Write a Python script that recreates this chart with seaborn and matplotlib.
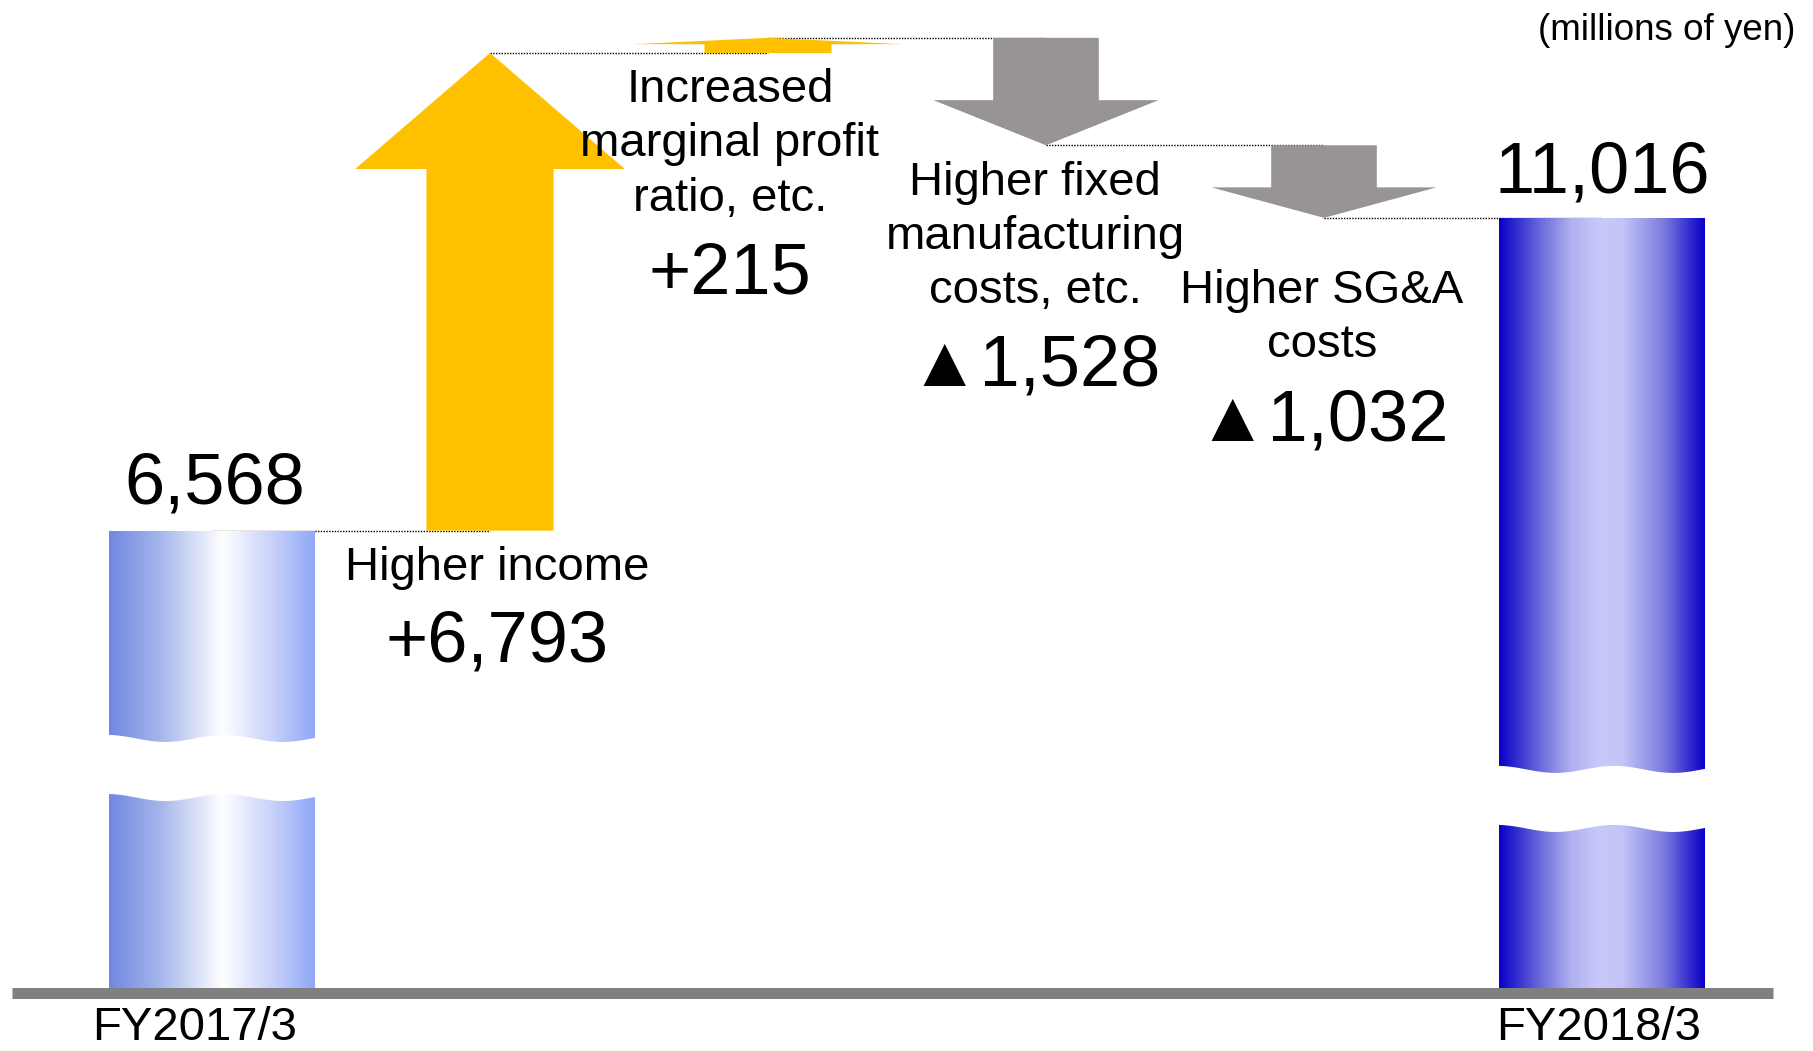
import numpy as np
import pandas as pd
import matplotlib
matplotlib.use("Agg")
import matplotlib.pyplot as plt
import matplotlib.transforms as mtransforms
import seaborn as sns
from matplotlib.colors import LinearSegmentedColormap

# ---------------- data ----------------
steps = ["FY2017/3", "Higher income", "Increased marginal profit ratio, etc.",
         "Higher fixed manufacturing costs, etc.", "Higher SG&A costs", "FY2018/3"]
start_value = 6568
changes = [6793, 215, -1528, -1032]
end_value = 11016
tick_labels = ["FY2017/3", "", "", "", "", "FY2018/3"]
step_labels = ["Higher income",
               "Increased\nmarginal profit\nratio, etc.",
               "Higher fixed\nmanufacturing\ncosts, etc.",
               "Higher SG&A\ncosts"]
unit_label = "(millions of yen)"

# ---------------- style ----------------
sns.set_style("white")
plt.rcParams["font.family"] = ["Liberation Sans", "Noto Sans CJK JP", "DejaVu Sans"]
plt.rcParams["text.color"] = "black"
plt.rcParams["xtick.labelcolor"] = "black"

YELLOW = "#FFC000"
GRAY = "#989493"
left_cmap = LinearSegmentedColormap.from_list(
    "l", [(0, "#7088E0"), (0.25, "#A6B6EC"), (0.55, "#FFFFFF"), (0.8, "#C6D0FA"), (1, "#90A8F8")])
right_cmap = LinearSegmentedColormap.from_list(
    "r", [(0, "#0A00C8"), (0.18, "#6060D8"), (0.35, "#B0B0F0"), (0.48, "#C8C8FA"),
          (0.6, "#C4C4F8"), (0.8, "#7C7CDE"), (1, "#0A00C8")])

# layout: category i sits at pixel X0 + DX*i ; value v at pixel Y0 - K*v
X0, DX = 212, 278
Y0, K = 992.5, 0.07032

fig = plt.figure(figsize=(18.13, 10.51), dpi=100)
ax = fig.add_axes([12 / 1813, (1051 - Y0) / 1051, 1761 / 1813, Y0 / 1051])

totals = pd.DataFrame({"step": [steps[0], steps[-1]], "value": [start_value, end_value]})
sns.barplot(data=totals, x="step", y="value", order=steps, width=0.74,
            errorbar=None, color="white", linewidth=0, ax=ax)

# gradient fill + wavy break for the two total bars
break_levels = [3200, 2760]
gap_half, amp = 420, 50
for patch, cmap, brk in zip(ax.patches, [left_cmap, right_cmap], break_levels):
    x0, w, h = patch.get_x(), patch.get_width(), patch.get_height()
    im = ax.imshow(np.linspace(0, 1, 256)[None, :], cmap=cmap, aspect="auto",
                   extent=[x0, x0 + w, 0, h], interpolation="bilinear", zorder=1.2)
    im.set_clip_path(patch)
    patch.set_facecolor("none")
    t = np.linspace(0, 1, 200)
    xs = x0 - 0.01 + t * (w + 0.02)
    wave = amp * np.cos(2 * np.pi * 1.8 * t)
    ax.fill_between(xs, brk - gap_half + wave, brk + gap_half + wave,
                    color="white", lw=0, zorder=1.5)

# arrows
levels = np.concatenate([[start_value], start_value + np.cumsum(changes)])
for i, d in enumerate(changes):
    x = i + 1
    y0 = levels[i]
    up = d > 0
    color = YELLOW if up else GRAY
    shaft = 0.457 if up else 0.38
    headw = 0.97 if up else 0.81
    hl = min(0.42 * abs(d), 1650)
    ax.arrow(x, y0, 0, d, width=shaft, head_width=headw, head_length=hl,
             length_includes_head=True, fc=color, ec="none", lw=0, zorder=2)

# dotted connectors
for i in range(len(steps) - 1):
    lvl = levels[i]
    ax.plot([i, i + 1], [lvl, lvl], ls=(0, (1, 1)), color="black", lw=1.0, zorder=0.8)

# value labels on totals
ax.annotate(f"{start_value:,}", xy=(0, start_value), xytext=(2, 19.4),
            textcoords="offset points", ha="center", va="baseline", fontsize=52)
ax.annotate(f"{end_value:,}", xy=(5, end_value), xytext=(0, 18),
            textcoords="offset points", ha="center", va="baseline", fontsize=52)

# step labels (offsets in points from the lower end of each arrow)
def px2pt(v):
    return v * 0.72

label_px = [(497, 37), (730, 91.5), (1035, 91.7), (1322, 100)]
value_px = [(497, 112), (730, 222), (1035, 221.7), (1323, 204)]
for i, d in enumerate(changes):
    xi = i + 1
    low = min(levels[i], levels[i + 1])
    anchor = (xi, low)
    xpix = X0 + DX * xi
    lx, ly = label_px[i]
    vx, vy = value_px[i]
    ax.annotate(step_labels[i], xy=anchor, xytext=(px2pt(lx - xpix), -px2pt(ly)),
                textcoords="offset points", ha="center", va="center",
                multialignment="center", fontsize=34, linespacing=1.3)
    txt = f"+{d:,}" if d > 0 else f"\u25b2{abs(d):,}"
    ax.annotate(txt, xy=anchor, xytext=(px2pt(vx - xpix), -px2pt(vy)),
                textcoords="offset points", ha="center", va="center", fontsize=52)

fig.text(1795 / 1813, 1 - 30 / 1051, unit_label, ha="right", va="center", fontsize=26.5)

# axes styling
ax.set_xlim((12 - X0) / DX, (1773 - X0) / DX)
ax.set_ylim(0, Y0 / K)
ax.set_xticks(range(len(steps)))
ax.set_xticklabels(tick_labels)
ax.set_yticks([])
ax.set_xlabel("")
ax.set_ylabel("")
ax.tick_params(axis="x", length=0, pad=10, labelsize=34, labelcolor="black")
tick_shift_px = [-17, 0, 0, 0, 0, -3]
for lab, sh in zip(ax.get_xticklabels(), tick_shift_px):
    lab.set_transform(lab.get_transform() +
                      mtransforms.ScaledTranslation(sh / 100, 0, fig.dpi_scale_trans))
for s in ["left", "right", "top"]:
    ax.spines[s].set_visible(False)
ax.spines["bottom"].set_color("#808080")
ax.spines["bottom"].set_linewidth(7.92)
ax.spines["bottom"].set_capstyle("butt")
ax.spines["bottom"].set_zorder(2.5)

fig.savefig("out.png", dpi=100)
